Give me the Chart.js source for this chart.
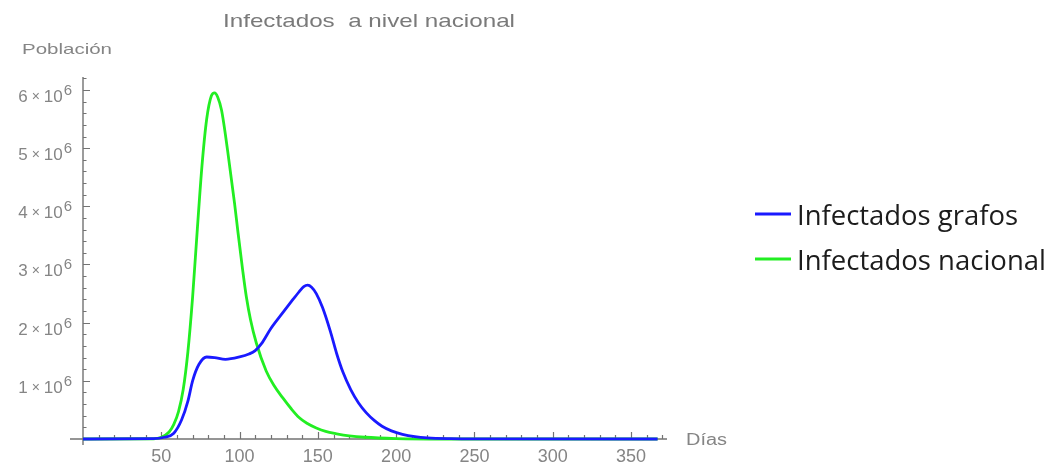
<!DOCTYPE html>
<html>
<head>
<meta charset="utf-8">
<script src="https://cdn.jsdelivr.net/npm/chart.js@4.4.1/dist/chart.umd.min.js"></script>
<style>
  html, body { margin: 0; padding: 0; background: #ffffff; }
  #wrap { width: 1057px; height: 466px; }
</style>
</head>
<body>
<div id="wrap"><canvas id="c" width="1057" height="466"></canvas></div>
<script>
// Infected population over time: graph model vs. national model
const grafosDias = [0, 45, 52, 58, 63, 67, 70, 74, 79, 84, 91, 100, 106, 110, 114, 120, 127, 133, 138, 141, 143.5, 146, 149, 153, 158, 162, 166, 171, 176, 181, 186, 191, 197, 204, 212, 220, 235, 250, 367];
const grafosInfectados = [0, 0.005e6, 0.03e6, 0.1e6, 0.33e6, 0.65e6, 1.0e6, 1.28e6, 1.41e6, 1.40e6, 1.37e6, 1.41e6, 1.46e6, 1.52e6, 1.64e6, 1.9e6, 2.15e6, 2.36e6, 2.53e6, 2.62e6, 2.645e6, 2.61e6, 2.5e6, 2.26e6, 1.85e6, 1.47e6, 1.15e6, 0.85e6, 0.62e6, 0.45e6, 0.32e6, 0.22e6, 0.14e6, 0.08e6, 0.04e6, 0.02e6, 0.007e6, 0.003e6, 0];

const nacionalDias = [0, 45, 50, 55, 58, 61, 64, 67, 70, 73, 76, 79, 82, 84, 86, 88.5, 92.3, 96.8, 99, 102, 104.3, 107, 110.7, 117, 122, 127.5, 133, 138, 143, 149, 155, 162, 170, 180, 200, 230, 367];
const nacionalInfectados = [0, 0.004e6, 0.03e6, 0.12e6, 0.25e6, 0.47e6, 0.85e6, 1.5e6, 2.44e6, 3.6e6, 4.7e6, 5.5e6, 5.9e6, 5.95e6, 5.88e6, 5.65e6, 4.97e6, 4.05e6, 3.55e6, 2.9e6, 2.45e6, 2.05e6, 1.65e6, 1.17e6, 0.92e6, 0.71e6, 0.52e6, 0.37e6, 0.27e6, 0.19e6, 0.13e6, 0.09e6, 0.055e6, 0.03e6, 0.008e6, 0, 0];

const xTickLabels = [50, 100, 150, 200, 250, 300, 350];
const yTickMantissas = [1, 2, 3, 4, 5, 6];   // labels read "n × 10^6"
const yTickExponent = 6;

const seriesNames = ['Infectados grafos', 'Infectados nacional'];
const seriesColors = ['#1a1aff', '#22ee22'];
const chartTitle = 'Infectados  a nivel nacional';
const yAxisTitle = 'Población';
const xAxisTitle = 'Días';

const toPoints = (xs, ys) => xs.map((d, i) => ({ x: d, y: ys[i] }));

const AXIS_COLOR = '#737373';
const LABEL_COLOR = '#858585';
const FONT = '"Liberation Sans", Arial, sans-serif';

// Text fitted to a given width by shrinking or widening horizontally
function fittedText(ctx, text, x, y, width) {
  const w = ctx.measureText(text).width;
  ctx.save();
  ctx.translate(x, y);
  ctx.scale(width / w, 1);
  ctx.fillText(text, 0, 0);
  ctx.restore();
}

const axesPlugin = {
  id: 'crossedAxes',
  beforeDatasetsDraw(chart) {
    const { ctx, scales: { x, y }, chartArea } = chart;
    const x0 = x.getPixelForValue(0);
    const y0 = y.getPixelForValue(0);
    ctx.save();
    ctx.strokeStyle = AXIS_COLOR;
    ctx.lineWidth = 1.4;
    ctx.beginPath();
    ctx.moveTo(x0 - 13, y0); ctx.lineTo(chartArea.right, y0);
    ctx.moveTo(x0, chartArea.top); ctx.lineTo(x0, y0 + 6);
    ctx.stroke();

    ctx.lineWidth = 1.2;
    ctx.beginPath();
    // x ticks: minor every 10 days, major every 50
    for (let d = 10; d <= x.max; d += 10) {
      const px = Math.round(x.getPixelForValue(d)) + 0.5;
      const len = d % 50 === 0 ? 7 : 4;
      ctx.moveTo(px, y0); ctx.lineTo(px, y0 - len);
    }
    // y ticks: minor every 0.2e6, major every 1e6
    for (let k = 1; k * 0.2e6 <= y.max; k++) {
      const py = Math.round(y.getPixelForValue(k * 0.2e6)) + 0.5;
      const len = k % 5 === 0 ? 7 : 3.5;
      ctx.moveTo(x0, py); ctx.lineTo(x0 + len, py);
    }
    ctx.stroke();
    ctx.restore();
  },
  afterDraw(chart) {
    const { ctx, scales: { x, y } } = chart;
    const x0 = x.getPixelForValue(0);
    const y0 = y.getPixelForValue(0);
    ctx.save();
    ctx.fillStyle = LABEL_COLOR;
    ctx.textBaseline = 'alphabetic';

    // x tick labels
    ctx.font = '18px ' + FONT;
    ctx.textAlign = 'center';
    xTickLabels.forEach(v => {
      ctx.fillText(String(v), x.getPixelForValue(v), y0 + 23);
    });

    // y tick labels: "n × 10" with a raised exponent
    yTickMantissas.forEach(m => {
      const py = y.getPixelForValue(m * 1e6);
      const right = x0 - 11;
      ctx.textAlign = 'right';
      ctx.font = '15px ' + FONT;
      const supW = ctx.measureText(String(yTickExponent)).width;
      ctx.fillText(String(yTickExponent), right, py + 5);
      ctx.font = '17px ' + FONT;
      const tenRight = right - supW - 1;
      ctx.fillText('10', tenRight, py + 12);
      const tenW = ctx.measureText('10').width;
      ctx.font = '14px ' + FONT;
      ctx.textAlign = 'center';
      const timesX = tenRight - tenW - 8;
      ctx.fillText('×', timesX, py + 11);
      ctx.font = '17px ' + FONT;
      ctx.textAlign = 'right';
      ctx.fillText(String(m), timesX - 8, py + 12);
    });

    // axis titles
    ctx.textAlign = 'left';
    ctx.font = '15px ' + FONT;
    fittedText(ctx, yAxisTitle, 22, 54, 90);
    ctx.font = '16px ' + FONT;
    fittedText(ctx, xAxisTitle, 686, y0 + 6, 41);

    // chart title
    ctx.font = '19px ' + FONT;
    ctx.fillStyle = '#7a7a7a';
    fittedText(ctx, chartTitle, 223, 27, 292);

    // legend
    const rows = [214, 259];
    seriesNames.forEach((name, i) => {
      ctx.strokeStyle = seriesColors[i];
      ctx.lineWidth = 2.8;
      ctx.beginPath();
      ctx.moveTo(755, rows[i]); ctx.lineTo(791, rows[i]);
      ctx.stroke();
      ctx.fillStyle = '#1c1c1c';
      ctx.font = '28px "Open Sans", "Noto Sans", sans-serif';
      const target = i === 0 ? 221 : 249;
      fittedText(ctx, name, 797, rows[i] + 11, target);
    });
    ctx.restore();
  }
};

new Chart(document.getElementById('c'), {
  type: 'line',
  data: {
    datasets: [
      {
        label: seriesNames[0],
        data: toPoints(grafosDias, grafosInfectados),
        borderColor: seriesColors[0],
        borderWidth: 2.8,
        pointRadius: 0,
        cubicInterpolationMode: 'monotone',
        clip: 6,
        fill: false
      },
      {
        label: seriesNames[1],
        data: toPoints(nacionalDias, nacionalInfectados),
        borderColor: seriesColors[1],
        borderWidth: 2.8,
        pointRadius: 0,
        cubicInterpolationMode: 'monotone',
        clip: 6,
        fill: false
      }
    ]
  },
  options: {
    responsive: false,
    animation: false,
    events: [],
    layout: { padding: { left: 83, top: 77, right: 390, bottom: 27 } },
    scales: {
      x: { type: 'linear', display: false, min: 0, max: 373 },
      y: { type: 'linear', display: false, min: 0, max: 6.223e6 }
    },
    plugins: {
      legend: { display: false },
      title: { display: false },
      tooltip: { enabled: false }
    }
  },
  plugins: [axesPlugin]
});
</script>
</body>
</html>
